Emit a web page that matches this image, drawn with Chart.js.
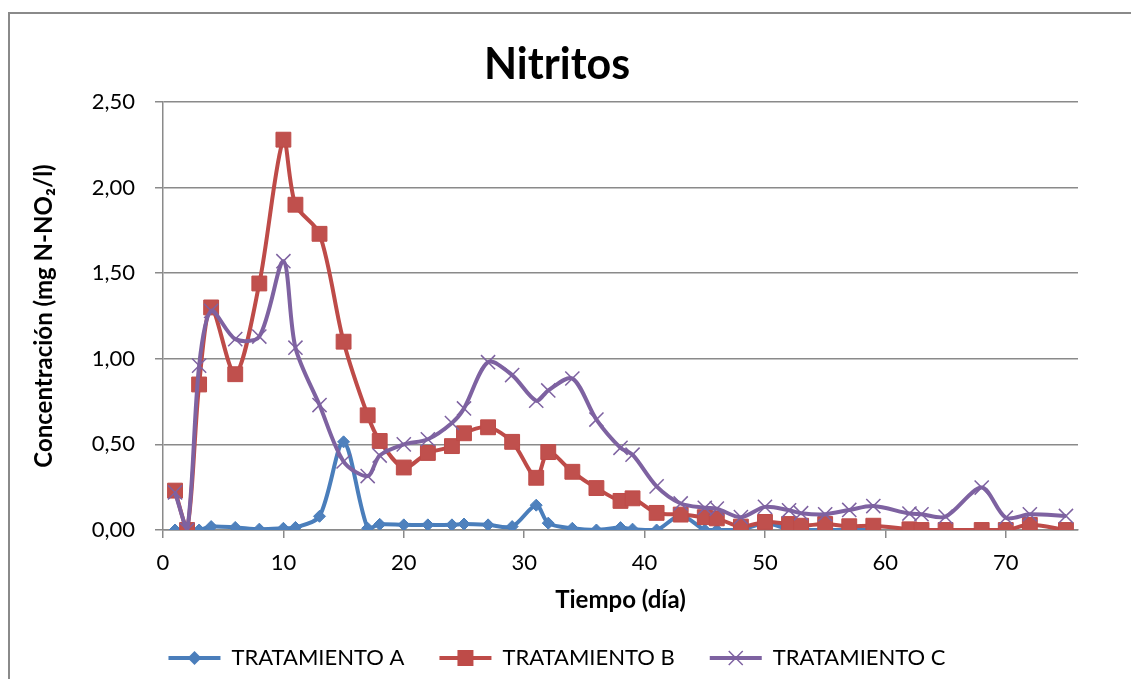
<!DOCTYPE html>
<html>
<head>
<meta charset="utf-8">
<script src="https://cdn.jsdelivr.net/npm/chart.js@4/dist/chart.umd.min.js"></script>
<style>
  html, body { margin: 0; padding: 0; background: #fff; overflow: hidden; }
  #wrap { position: relative; width: 1131px; height: 679px; }
  #marco {
    position: absolute; left: 8px; top: 12px; width: 1200px; height: 800px;
    border-left: 2px solid #8a8a8a; border-top: 2px solid #8a8a8a;
  }
  #grafico { position: absolute; left: 0; top: 0; }
</style>
</head>
<body>
<div id="wrap">
  <div id="marco"></div>
  <canvas id="grafico" width="1131" height="679"></canvas>
</div>
<script>
// días de muestreo
const dias = [1, 2, 3, 4, 6, 8, 10, 11, 13, 15, 17, 18, 20, 22, 24, 25, 27, 29, 31, 32,
    34, 36, 38, 39, 41, 43, 45, 46, 48, 50, 52, 53, 55, 57, 59, 62, 63, 65, 68, 70, 72, 75];

const tratamientoA = [0, 0, 0, 0.02, 0.015, 0.005, 0.01, 0.015, 0.08, 0.515,
    0.01, 0.033, 0.03, 0.03, 0.03, 0.035, 0.03, 0.02, 0.145, 0.04,
    0.01, 0, 0.014, 0.005, 0, 0.085, 0, 0, 0, 0.04,
    0.005, 0, 0, 0, 0, null, null, null, null, null,
    null, null];

const tratamientoB = [0.23, 0, 0.85, 1.30, 0.91, 1.44, 2.28, 1.90, 1.73, 1.10,
    0.67, 0.52, 0.365, 0.45, 0.49, 0.565, 0.60, 0.515, 0.305, 0.455,
    0.34, 0.245, 0.17, 0.185, 0.10, 0.09, 0.075, 0.068, 0.02, 0.047,
    0.035, 0.025, 0.035, 0.022, 0.025, 0.004, 0, 0, 0, 0,
    0.03, 0];

const tratamientoC = [0.22, 0, 0.96, 1.28, 1.115, 1.13, 1.57, 1.065, 0.73, 0.40,
    0.315, 0.435, 0.50, 0.53, 0.625, 0.71, 0.98, 0.905, 0.755, 0.815,
    0.885, 0.645, 0.48, 0.44, 0.255, 0.155, 0.13, 0.125, 0.075, 0.135,
    0.115, 0.098, 0.092, 0.117, 0.14, 0.096, 0.092, 0.078, 0.248, 0.072,
    0.092, 0.082];

const nombres = ["TRATAMIENTO A", "TRATAMIENTO B", "TRATAMIENTO C"];
const ticksY = [0, 0.5, 1, 1.5, 2, 2.5];
const ticksX = [0, 10, 20, 30, 40, 50, 60, 70];

const fuente = "Lato, 'Liberation Sans', sans-serif";
const gris = "#8a8a8a";

function puntos(valores) {
    return dias.map((d, i) => ({ x: d, y: valores[i] }));
}

// dibuja el marcador sobre la línea de la leyenda
function marcador(ctx, tipo, x, y, color) {
    ctx.save();
    ctx.fillStyle = color;
    ctx.strokeStyle = color;
    ctx.beginPath();
    if (tipo === "rectRot") {
        ctx.moveTo(x - 7, y);
        ctx.lineTo(x, y - 7);
        ctx.lineTo(x + 7, y);
        ctx.lineTo(x, y + 7);
        ctx.closePath();
        ctx.fill();
    } else if (tipo === "rect") {
        ctx.rect(x - 8, y - 8, 16, 16);
        ctx.fill();
    } else {
        ctx.lineWidth = 1.5;
        ctx.moveTo(x - 7, y - 7);
        ctx.lineTo(x + 7, y + 7);
        ctx.moveTo(x + 7, y - 7);
        ctx.lineTo(x - 7, y + 7);
        ctx.stroke();
    }
    ctx.restore();
}

const marcadoresLeyenda = {
    id: "marcadoresLeyenda",
    afterDraw(chart) {
        const leyenda = chart.legend;
        if (!leyenda || !leyenda.legendHitBoxes) return;
        const ancho = leyenda.options.labels.boxWidth;
        const tam = leyenda.options.labels.font.size;
        leyenda.legendItems.forEach((item, i) => {
            const caja = leyenda.legendHitBoxes[i];
            const ds = chart.data.datasets[item.datasetIndex];
            marcador(chart.ctx, ds.pointStyle,
                caja.left + ancho / 2,
                caja.top + tam / 2,
                ds.borderColor);
        });
    }
};

const datasets = [
    {
        label: nombres[0],
        data: puntos(tratamientoA),
        borderColor: "#4A7EBB",
        backgroundColor: "#4F81BD",
        pointStyle: "rectRot",
        pointRadius: 6,
        pointBorderWidth: 1,
        order: 3
    },
    {
        label: nombres[1],
        data: puntos(tratamientoB),
        borderColor: "#BE4B48",
        backgroundColor: "#C0504D",
        pointStyle: "rect",
        pointRadius: 10.5,
        pointBorderWidth: 1,
        order: 2
    },
    {
        label: nombres[2],
        data: puntos(tratamientoC),
        borderColor: "#7E62A1",
        backgroundColor: "#7E62A1",
        pointStyle: "crossRot",
        pointRadius: 10,
        pointBorderWidth: 1.5,
        order: 1
    }
];

datasets.forEach(ds => {
    ds.borderWidth = 4;
    ds.tension = 0.3;
    ds.spanGaps = false;
    ds.pointHoverRadius = ds.pointRadius;
});

new Chart(document.getElementById("grafico"), {
    type: "line",
    data: { datasets: datasets },
    plugins: [marcadoresLeyenda],
    options: {
        responsive: false,
        animation: false,
        layout: { padding: { left: 36, right: 53, top: 0, bottom: 0 } },
        plugins: {
            tooltip: { enabled: false },
            title: {
                display: true,
                text: "Nitritos",
                color: "#000",
                font: { family: fuente, size: 43, weight: "bold" },
                padding: { top: 39, bottom: 11.4 }
            },
            legend: {
                position: "bottom",
                labels: {
                    color: "#000",
                    font: { family: fuente, size: 22 },
                    boxWidth: 52,
                    boxHeight: 4,
                    padding: 35,
                    sort: (a, b) => a.datasetIndex - b.datasetIndex,
                    generateLabels(chart) {
                        return chart.data.datasets.map((ds, i) => ({
                            text: ds.label,
                            fillStyle: ds.borderColor,
                            strokeStyle: ds.borderColor,
                            lineWidth: 0,
                            hidden: false,
                            datasetIndex: i
                        }));
                    }
                }
            }
        },
        scales: {
            x: {
                type: "linear",
                min: 0,
                max: 76,
                afterFit(s) { s.height = 82; },
                afterBuildTicks(s) { s.ticks = ticksX.map(v => ({ value: v })); },
                ticks: {
                    color: "#000",
                    font: { family: fuente, size: 22 },
                    padding: 12,
                    maxRotation: 0
                },
                grid: {
                    drawOnChartArea: false,
                    drawTicks: true,
                    tickLength: 8,
                    color: gris,
                    lineWidth: 1.5
                },
                border: { color: gris, width: 1.5 },
                title: {
                    display: true,
                    text: "Tiempo (día)",
                    color: "#000",
                    font: { family: fuente, size: 24, weight: "bold" },
                    padding: { top: 0, bottom: -3 }
                }
            },
            y: {
                min: 0,
                max: 2.5,
                afterFit(s) { s.width = 127; },
                afterBuildTicks(s) { s.ticks = ticksY.map(v => ({ value: v })); },
                ticks: {
                    color: "#000",
                    font: { family: fuente, size: 22 },
                    padding: 20,
                    callback: v => v.toFixed(2).replace(".", ",")
                },
                grid: {
                    color: gris,
                    lineWidth: 1.5,
                    tickLength: 8
                },
                border: { color: gris, width: 1.5 },
                title: {
                    display: true,
                    text: "Concentración (mg N-NO₂/l)",
                    color: "#000",
                    font: { family: fuente, size: 24, weight: "bold" },
                    padding: { top: -6, bottom: 0 }
                }
            }
        }
    }
});
</script>
</body>
</html>
